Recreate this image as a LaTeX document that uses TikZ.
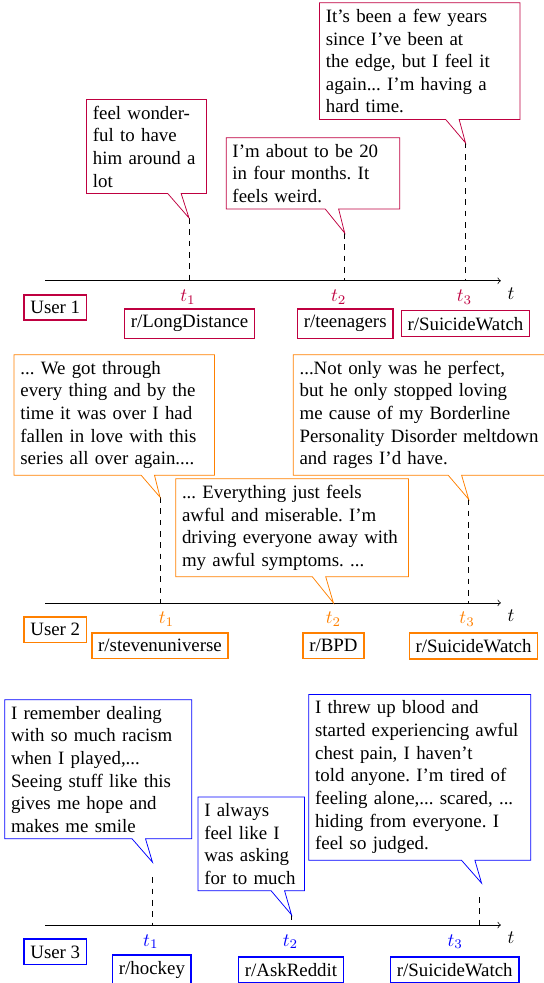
\documentclass[tikz,border=0pt]{standalone}
\usepackage{fontspec}
\setmainfont{Liberation Serif}
\frenchspacing
\usetikzlibrary{shapes.callouts}
\begin{document}
\begin{tikzpicture}[box/.style={draw=#1,thick},
    say/.style={rectangle callout,draw=#1,fill=white,align=left}]
  \useasboundingbox (0,-1.08) rectangle (10.12,17.23);
  \foreach \p/\c/\y in {1/purple/12,2/orange/6,3/blue/0}{
    \coordinate (o\p) at (0.84,\y);
    \coordinate (e\p) at (9.33,\y);
    \draw[->] (o\p) -- (e\p) node[below right]{$t$};
    \node[box=\c] (user\p) at (1.03,\y-0.5) {User \p};
  }
  \foreach \p/\c/\y/\sy/\i/\x/\h/\lx/\sx/\sub in {
      1/purple/12/-0.80/1/3.52/1.17/3.50/3.53/LongDistance,
      1/purple/12/-0.80/2/6.42/0.89/6.31/6.43/teenagers,
      1/purple/12/-0.80/3/8.67/2.57/8.65/8.67/SuicideWatch,
      2/orange/6/-0.80/1/2.98/1.97/3.10/2.98/stevenuniverse,
      2/orange/6/-0.80/2/6.21/0/6.21/6.21/BPD,
      2/orange/6/-0.80/3/8.73/1.93/8.70/8.82/SuicideWatch,
      3/blue/0/-0.84/1/2.83/0.89/2.81/2.83/hockey,
      3/blue/0/-0.84/2/5.43/0.19/5.41/5.42/AskReddit,
      3/blue/0/-0.84/3/8.93/0.52/8.48/8.47/SuicideWatch}{
    \coordinate (a\p\i) at (\x,\y);
    \coordinate (b\p\i) at (\x,\y+\h);
    \draw[dashed] (b\p\i) -- (a\p\i);
    \node[text=\c] (t\p\i) at (\lx,\y-0.31) {$t_\i$};
    \node[box=\c] (sub\p\i) at (\sx,\y+\sy) {r/\sub};
  }
  % user 1
  \node[say=purple,text width=2cm,callout absolute pointer={(b11)}] (say11) at (2.73,14.50)
    {feel wonder-\\ful to have\\him around a\\lot};
  \node[say=purple,text width=3cm,callout absolute pointer={(b12)}] (say12) at (5.83,14.00)
    {I'm about to be 20\\in four months. It\\feels weird.};
  \node[say=purple,text width=3.5cm,callout absolute pointer={(b13)}] (say13) at (7.82,16.09)
    {It's been a few years\\since I've been at\\the edge, but I feel it\\again... I'm having a\\hard time.};
  % user 2
  \node[say=orange,text width=3.5cm,callout absolute pointer={(b21)}] (say21) at (2.13,9.50)
    {... We got through\\every thing and by the\\time it was over I had\\fallen in love with this\\series all over again....};
  \node[say=orange,text width=4.1cm,callout absolute pointer={(b22)}] (say22) at (5.44,7.40)
    {... Everything just feels\\awful and miserable. I'm\\driving everyone away with\\my awful symptoms. ...};
  \node[say=orange,text width=4.5cm,callout absolute pointer={(b23)}] (say23) at (7.83,9.50)
    {...Not only was he perfect,\\but he only stopped loving\\me cause of my Borderline\\Personality Disorder meltdown\\and rages I'd have.};
  % user 3
  \coordinate (q31) at (2.84,1.17);
  \coordinate (q33) at (8.97,0.78);
  \node[say=blue,text width=3.25cm,callout absolute pointer={(q31)}] (say31) at (1.83,2.90)
    {I remember dealing\\with so much racism\\when I played,...\\Seeing stuff like this\\gives me hope and\\makes me smile};
  \node[say=blue,text width=1.75cm,callout absolute pointer={(b32)}] (say32) at (4.68,1.51)
    {I always\\feel like I\\was asking\\for to much};
  \node[say=blue,text width=3.9cm,callout absolute pointer={(q33)}] (say33) at (7.82,2.75)
    {I threw up blood and\\started experiencing awful\\chest pain, I haven't\\told anyone. I'm tired of\\feeling alone,... scared, ...\\hiding from everyone. I\\feel so judged.};
\end{tikzpicture}
\end{document}
